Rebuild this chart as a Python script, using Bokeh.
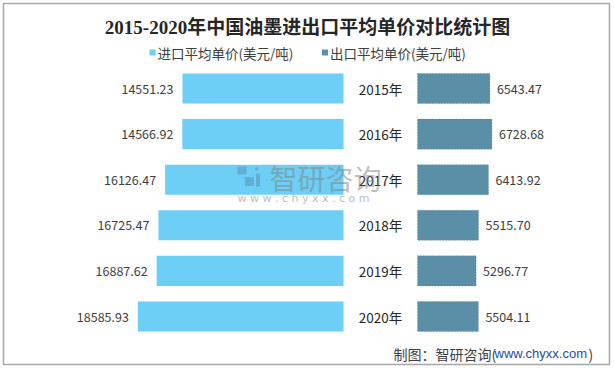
from bokeh.plotting import figure
from bokeh.models import ColumnDataSource, Range1d, Label
from bokeh.core.properties import value
from bokeh.embed import file_html
from bokeh.resources import INLINE

years = ["2015年", "2016年", "2017年", "2018年", "2019年", "2020年"]
import_price = [14551.23, 14566.92, 16126.47, 16725.47, 16887.62, 18585.93]
export_price = [6543.47, 6728.68, 6413.92, 5515.70, 5296.77, 5504.11]
title_text = "2015-2020年中国油墨进出口平均单价对比统计图"
legend_labels = ["进口平均单价(美元/吨)", "出口平均单价(美元/吨)"]

IMP_COLOR = "#6DCFF6"
EXP_COLOR = "#5B8FA8"
CJK = "'Noto Sans CJK SC', 'Noto Sans', sans-serif"

# page-pixel layout helpers
W, H = 614, 368
FL, FT, FR, FB = 3, 3, 609, 364   # frame edges in page pixels
X0 = 380.0           # page x of centre column (year labels)
S = 161.0 / 14551.23  # px per unit
Y0, DY = 88.0, 45.6  # page y of first row, row spacing
HALF_GAP = 37.0 / S


def px(x):
    return (x - X0) / S


def py(y):
    return (y - Y0) / DY


idx = list(range(len(years)))
src = ColumnDataSource(dict(
    y=idx,
    year=years,
    imp=import_price,
    exp=export_price,
    imp_left=[-(HALF_GAP + v) for v in import_price],
    imp_right=[-HALF_GAP] * len(idx),
    exp_left=[HALF_GAP] * len(idx),
    exp_right=[HALF_GAP + v for v in export_price],
    imp_lbl=["%.2f" % v for v in import_price],
    exp_lbl=["%.2f" % v for v in export_price],
    mid=[0] * len(idx),
))

p = figure(width=W, height=H, output_backend="svg", toolbar_location=None,
           x_range=Range1d(px(FL), px(FR)), y_range=Range1d(py(FB), py(FT)),
           min_border=0, min_border_left=FL, min_border_right=W - FR,
           min_border_top=FT, min_border_bottom=H - FB)
p.axis.visible = False
p.grid.visible = False
p.outline_line_color = "#A6A6A6"
p.outline_line_width = 1.5
p.background_fill_color = "white"
p.border_fill_color = "white"

p.hbar(y="y", left="imp_left", right="imp_right", height=0.66, source=src,
       fill_color=IMP_COLOR, line_color=None)
p.hbar(y="y", left="exp_left", right="exp_right", height=0.66, source=src,
       fill_color=EXP_COLOR, line_color="#4C7C93", line_alpha=0.6, line_dash="1 2", line_width=1)

# watermark (logo blocks + text), drawn over the bars
wm_x = [px(241.5), px(249), px(256), px(257.5)]
wm_y = [py(170), py(181), py(168.5), py(179.5)]
wm_w = [9 / S, 9 / S, 3 / S, 4 / S]
wm_h = [8 / DY, 9 / DY, 3 / DY, 13 / DY]
p.rect(x=wm_x, y=wm_y, width=wm_w, height=wm_h, fill_color="#4F6F8C",
       fill_alpha=0.35, line_color=None)
p.add_layout(Label(x=px(269), y=py(177), text="智研咨询", text_font=CJK,
                   text_font_size="28px", text_color="#7F7F7F", text_alpha=0.5,
                   text_baseline="middle", text_align="left"))
p.add_layout(Label(x=px(237), y=py(198), text="w w w . c h y x x . c o m", text_font="DejaVu Sans",
                   text_font_size="11px", text_color="#7F7F7F", text_alpha=0.55,
                   text_baseline="middle", text_align="left"))

p.text(x="imp_left", y="y", text="imp_lbl", source=src, x_offset=-9,
       text_align="right", text_baseline="middle", text_font=value(CJK),
       text_font_size="12.5px", text_color="#404040")
p.text(x="exp_right", y="y", text="exp_lbl", source=src, x_offset=7,
       text_align="left", text_baseline="middle", text_font=value(CJK),
       text_font_size="12.5px", text_color="#404040")
p.text(x="mid", y="y", text="year", source=src,
       text_align="center", text_baseline="middle", text_font=value(CJK),
       text_font_size="13.5px", text_color="#262626")

# title
p.add_layout(Label(x=px(307), y=py(27), text=title_text,
                   text_font="'Liberation Serif', 'Noto Sans CJK SC', serif",
                   text_font_style="bold", text_font_size="19px", text_color="#262626",
                   text_align="center", text_baseline="middle"))

# legend
for lx, col, lab in [(152, IMP_COLOR, legend_labels[0]), (324.5, EXP_COLOR, legend_labels[1])]:
    p.rect(x=[px(lx)], y=[py(52)], width=6 / S, height=6 / DY, fill_color=col, line_color=None)
    p.add_layout(Label(x=px(lx + 5), y=py(52), text=lab, text_font=CJK,
                       text_font_size="13.5px", text_color="#404040",
                       text_align="left", text_baseline="middle"))

# source
p.add_layout(Label(x=px(393), y=py(353), text="制图：智研咨询(", text_font=CJK,
                   text_font_size="14px", text_color="#404040",
                   text_align="left", text_baseline="middle"))
p.add_layout(Label(x=px(494), y=py(353), text="www.chyxx.com", text_font="Liberation Sans",
                   text_font_size="13px", text_color="#1F4E9F",
                   text_align="left", text_baseline="middle"))
p.add_layout(Label(x=px(588), y=py(353), text=")", text_font=CJK,
                   text_font_size="14px", text_color="#404040",
                   text_align="left", text_baseline="middle"))

open("out.html", "w").write(file_html(p, INLINE))
